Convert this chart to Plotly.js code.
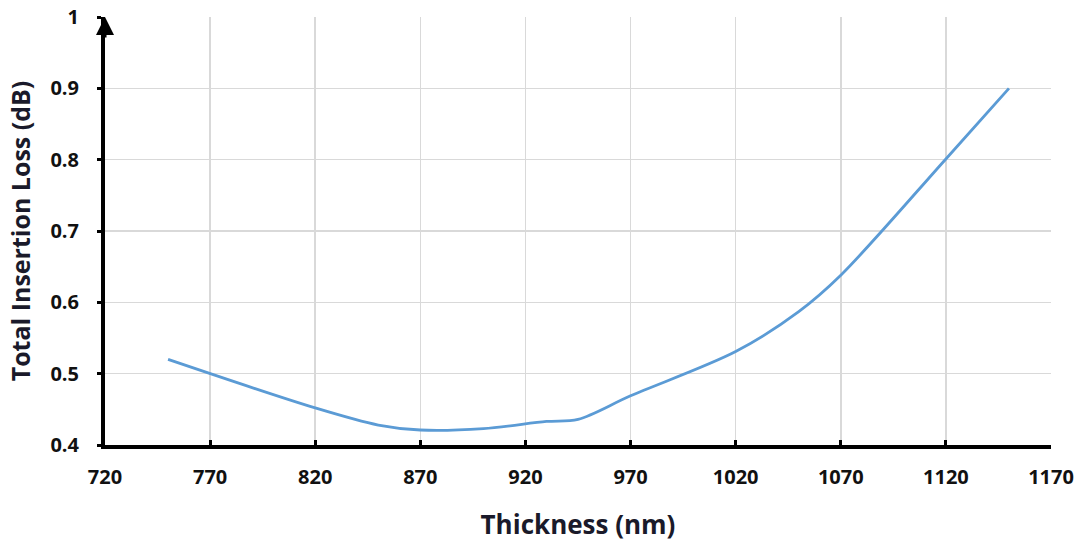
<!DOCTYPE html>
<html>
<head>
<meta charset="utf-8">
<script src="https://cdn.plot.ly/plotly-3.0.1.min.js"></script>
<style>html,body{margin:0;padding:0;background:#fff;}#chart{width:1083px;height:542px;}</style>
</head>
<body>
<div id="chart"></div>
<script>
const thickness = [750, 820, 850, 870, 900, 930, 945, 970, 1020, 1050, 1070, 1120, 1150];
const insertionLoss = [0.520, 0.452, 0.428, 0.421, 0.423, 0.433, 0.436, 0.469, 0.531, 0.587, 0.638, 0.801, 0.900];
const xTicks = [720, 770, 820, 870, 920, 970, 1020, 1070, 1120, 1170];
const yTicks = [0.4, 0.5, 0.6, 0.7, 0.8, 0.9, 1];
const yTickText = ['0.4', '0.5', '0.6', '0.7', '0.8', '0.9', '1'];

const font = 'Open Sans, Noto Sans, sans-serif';
const trace = {
  x: thickness, y: insertionLoss, type: 'scatter', mode: 'lines',
  line: {color: '#5b9bd5', width: 2.8, shape: 'spline', smoothing: 0.9},
  hoverinfo: 'skip'
};
const layout = {
  width: 1083, height: 542,
  margin: {l: 105, r: 32, t: 17, b: 97},
  paper_bgcolor: '#fff', plot_bgcolor: '#fff',
  showlegend: false,
  font: {family: font, color: '#111'},
  xaxis: {
    range: [720, 1170], tickvals: xTicks, ticktext: xTicks.map(String),
    showgrid: true, gridcolor: '#d9d9d9', gridwidth: 1.5, zeroline: false,
    showline: true, linecolor: '#000', linewidth: 4,
    ticks: 'inside', ticklen: 5, tickwidth: 3, tickcolor: '#000',
    ticklabelstandoff: 11,
    tickfont: {family: font, size: 20, color: '#111', weight: 'bold'},
    title: {text: '<b>Thickness (nm)</b>', font: {family: font, size: 26, color: '#1a1a2a'}, standoff: 30}
  },
  yaxis: {
    range: [0.4, 1], tickvals: yTicks, ticktext: yTickText,
    showgrid: true, gridcolor: '#d9d9d9', gridwidth: 1.5, zeroline: false,
    showline: true, linecolor: '#000', linewidth: 4,
    ticks: 'outside', ticklen: 4, tickwidth: 3, tickcolor: '#000',
    ticklabelstandoff: 14,
    tickfont: {family: font, size: 20, color: '#111', weight: 'bold'},
    title: {text: '<b>Total Insertion Loss (dB)</b>', font: {family: font, size: 25, color: '#1a1a2a'}, standoff: 14}
  },
  annotations: [
    {x: 720, y: 1, xref: 'x', yref: 'y', ax: 0, ay: 22, showarrow: true, arrowhead: 2, arrowsize: 1.2, arrowwidth: 3, arrowcolor: '#000', text: ''},
    {x: 1172.5, y: 0.4, xref: 'x', yref: 'y', ax: -22, ay: 0, showarrow: true, arrowhead: 2, arrowsize: 1.2, arrowwidth: 3, arrowcolor: '#000', text: ''}
  ]
};
Plotly.newPlot('chart', [trace], layout, {displayModeBar: false, staticPlot: true});
</script>
</body>
</html>
